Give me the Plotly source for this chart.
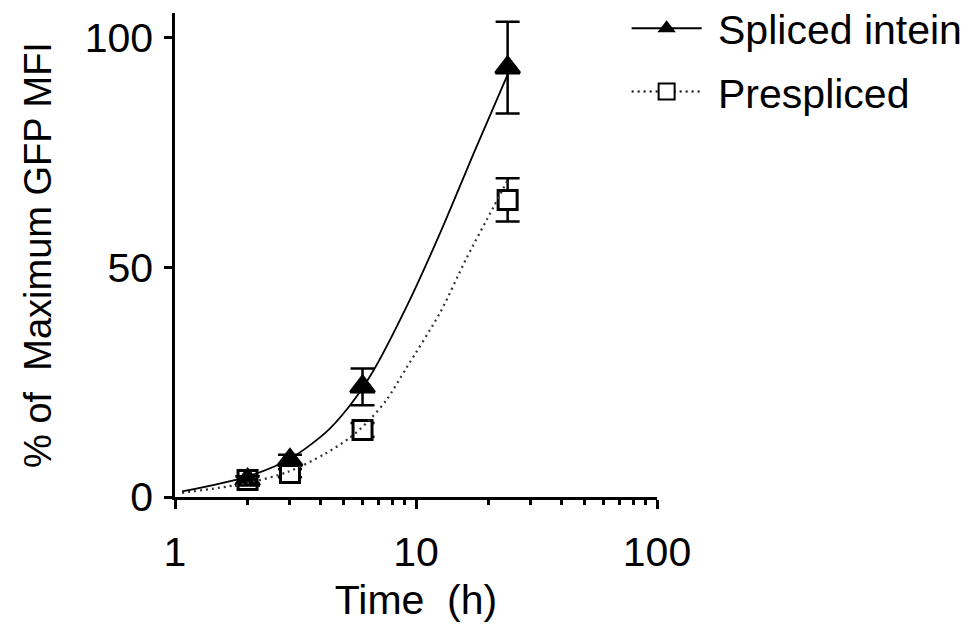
import plotly.graph_objects as go

# ---- data ----
time_h = [2, 3, 6, 24]
spliced_mean = [3.7, 8.0, 24.0, 93.5]
spliced_err = [0.8, 1.2, 4.0, 10.0]
prespliced_mean = [3.7, 5.2, 14.6, 64.7]
prespliced_err = [0.8, 0.9, 1.5, 4.7]

# fitted curves
spliced_fit_t = [1.07, 1.98, 2.95, 4.19, 5.24, 6.57, 9.15, 12.6, 17.6, 24.0]
spliced_fit_y = [1.2, 4.4, 8.1, 13.9, 19.5, 27.0, 41.5, 57.5, 75.6, 92.0]
prespliced_fit_t = [1.07, 1.98, 2.95, 4.19, 5.41, 6.55, 7.56, 9.15, 12.6, 16.2, 20.9, 24.0]
prespliced_fit_y = [0.9, 3.0, 5.5, 9.4, 13.2, 17.3, 21.2, 28.2, 40.2, 52.0, 63.0, 69.0]

x_tickvals = [1, 10, 100]
x_ticktext = ["1", "10", "100"]
x_minor_tickvals = [2, 3, 4, 5, 6, 7, 8, 9, 20, 30, 40, 50, 60, 70, 80, 90]
y_tickvals = [0, 50, 100]

FONT = "Liberation Sans, Arial, sans-serif"

fig = go.Figure()

# data points with error bars (prespliced first so triangles sit on top)
fig.add_trace(go.Scatter(
    x=time_h, y=prespliced_mean, mode="markers", showlegend=False,
    marker=dict(symbol="square", size=19, color="white",
                line=dict(color="black", width=3)),
    error_y=dict(type="data", array=prespliced_err, visible=True,
                 color="black", thickness=2.5, width=12),
))
fig.add_trace(go.Scatter(
    x=time_h, y=spliced_mean, mode="markers", showlegend=False,
    marker=dict(symbol="triangle-up", size=21, color="black",
                line=dict(color="black", width=3)),
    error_y=dict(type="data", array=spliced_err, visible=True,
                 color="black", thickness=2.5, width=12),
))

# fitted curves
fig.add_trace(go.Scatter(
    x=spliced_fit_t, y=spliced_fit_y, mode="lines", showlegend=False,
    line=dict(color="black", width=1.8, shape="spline", smoothing=0.8),
))
fig.add_trace(go.Scatter(
    x=prespliced_fit_t, y=prespliced_fit_y, mode="lines", showlegend=False,
    line=dict(color="#333333", width=2.2, shape="spline", smoothing=0.8,
              dash="2px,4px"),
))

# legend entries
fig.add_trace(go.Scatter(
    x=[None], y=[None], mode="lines+markers", name="\u00a0Spliced intein",
    legendgroup="a",
    line=dict(color="black", width=2),
    marker=dict(symbol="triangle-up", size=22, color="black"),
))
fig.add_trace(go.Scatter(
    x=[None], y=[None], mode="lines+markers", name="\u00a0Prespliced",
    legendgroup="b",
    line=dict(color="black", width=2, dash="2px,4px"),
    marker=dict(symbol="square", size=16, color="white",
                line=dict(color="black", width=2)),
))

fig.update_layout(
    width=976, height=625,
    margin=dict(l=175, r=319, t=13, b=128, autoexpand=False),
    paper_bgcolor="white", plot_bgcolor="white",
    font=dict(family=FONT, color="black", size=40),
    legend=dict(
        x=0.937, y=1.037, xanchor="left", yanchor="top",
        font=dict(family=FONT, size=41, color="black"),
        itemwidth=70, tracegroupgap=7, traceorder="grouped",
        bgcolor="rgba(0,0,0,0)", borderwidth=0,
    ),
)

fig.update_xaxes(
    type="log", range=[0, 2],
    showline=True, linecolor="black", linewidth=2.5,
    showgrid=False, zeroline=False,
    ticks="outside", ticklen=9, tickwidth=2.5, tickcolor="black",
    tickvals=x_tickvals, ticktext=x_ticktext,
    tickfont=dict(family=FONT, size=41, color="black"),
    ticklabelstandoff=8,
    minor=dict(ticks="outside", ticklen=5, tickwidth=2.5, tickcolor="black",
               tickvals=x_minor_tickvals),
    title=dict(text="Time\u00a0 (h)", font=dict(family=FONT, size=41, color="black"),
               standoff=12),
)
fig.update_yaxes(
    range=[0, 105.4],
    showline=True, linecolor="black", linewidth=2.5,
    showgrid=False, zeroline=False,
    ticks="outside", ticklen=8, tickwidth=2.5, tickcolor="black",
    tickvals=y_tickvals,
    tickfont=dict(family=FONT, size=41, color="black"),
    ticklabelstandoff=3,
    title=dict(text="%\u00a0of\u00a0 Maximum GFP MFI",
               font=dict(family=FONT, size=38, color="black"), standoff=22),
)

fig.write_html("out.html")
